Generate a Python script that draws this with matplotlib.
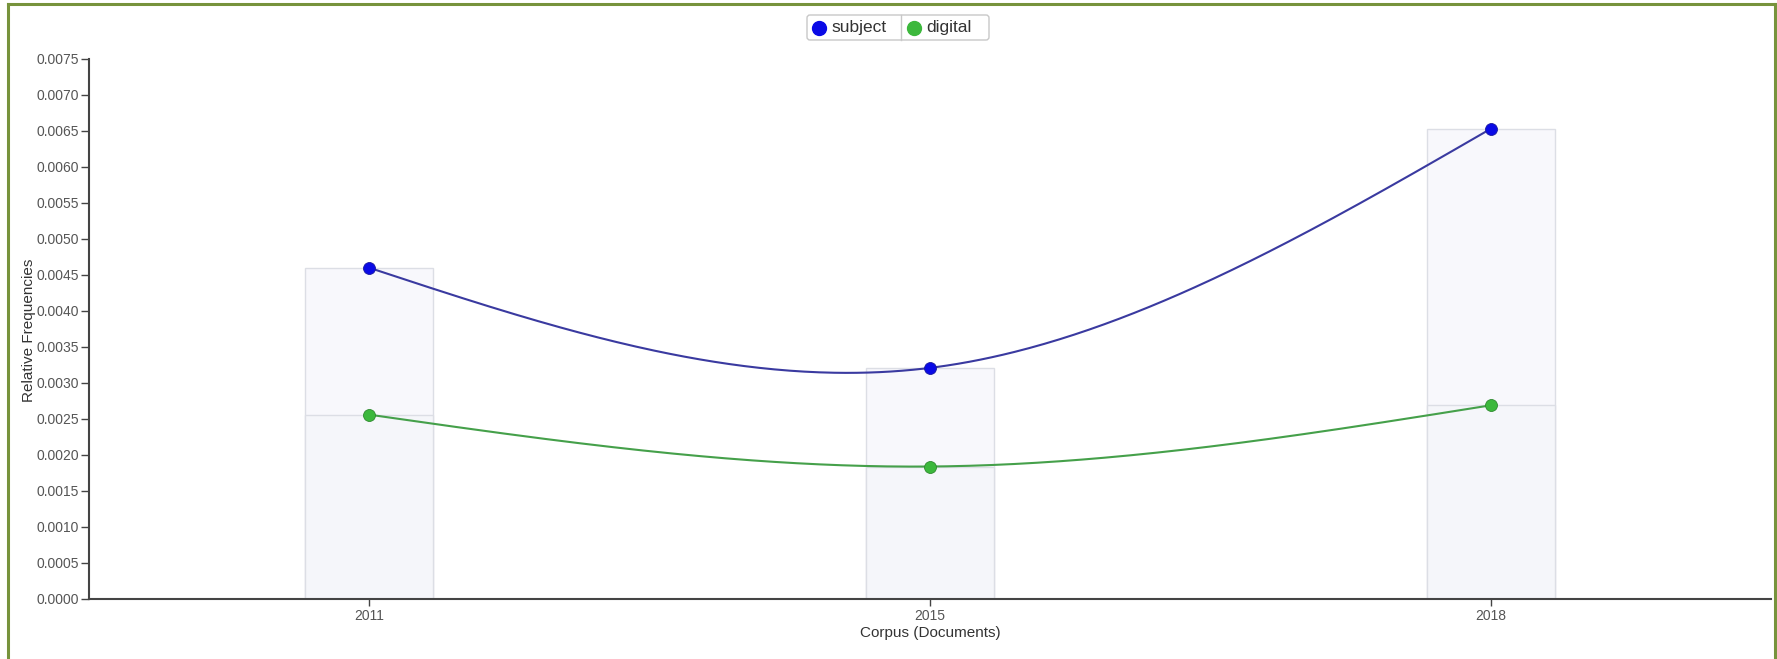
import matplotlib.pyplot as plt
from matplotlib.patches import FancyBboxPatch
from matplotlib.lines import Line2D
from matplotlib.transforms import IdentityTransform
import numpy as np

years = ['2011', '2015', '2018']
subject = [0.00460, 0.00321, 0.00653]
digital = [0.00256, 0.00184, 0.00269]
series_names = ['subject', 'digital']

plt.rcParams['font.family'] = ['Liberation Sans', 'DejaVu Sans']

W, H = 1777, 659
fig = plt.figure(figsize=(W / 100, H / 100), dpi=100)
ax = fig.add_axes([89 / W, 60 / H, 1682 / W, 540 / H])


def natural_spline(xs, ys, n=300):
    # natural cubic spline through the points (same curve as d3.curveNatural)
    xs = np.asarray(xs, float)
    ys = np.asarray(ys, float)
    k = len(xs)
    h = np.diff(xs)
    A = np.zeros((k, k))
    b = np.zeros(k)
    A[0, 0] = A[-1, -1] = 1
    for i in range(1, k - 1):
        A[i, i - 1] = h[i - 1]
        A[i, i] = 2 * (h[i - 1] + h[i])
        A[i, i + 1] = h[i]
        b[i] = 6 * ((ys[i + 1] - ys[i]) / h[i] - (ys[i] - ys[i - 1]) / h[i - 1])
    M = np.linalg.solve(A, b)
    xx = np.linspace(xs[0], xs[-1], n)
    yy = np.empty_like(xx)
    for j, xv in enumerate(xx):
        i = min(np.searchsorted(xs, xv, side='right') - 1, k - 2)
        t = (xv - xs[i]) / h[i]
        yy[j] = ((1 - t) * ys[i] + t * ys[i + 1]
                 + h[i] ** 2 / 6 * (((1 - t) ** 3 - (1 - t)) * M[i] + (t ** 3 - t) * M[i + 1]))
    return xx, yy


x = np.arange(len(years))

# pale background bars
ax.bar(x, subject, width=0.228, color='#f8f8fc', edgecolor='#dcdee5', linewidth=1, zorder=1)
ax.bar(x, digital, width=0.228, color='#f5f6fa', edgecolor='#dcdee5', linewidth=1, zorder=1)

sx, sy = natural_spline(x, subject)
ax.plot(sx, sy, color='#3a3aa0', lw=1.5, zorder=3)
gx, gy = natural_spline(x, digital)
ax.plot(gx, gy, color='#45a04a', lw=1.5, zorder=3)

ax.plot(x, subject, 'o', ms=8.6, color='#0a0ae6', mec='#1a1aa0', mew=0.6, zorder=4)
ax.plot(x, digital, 'o', ms=8.6, color='#3cb83c', mec='#2f8a2f', mew=0.6, zorder=4)

ax.set_xlim(-0.5, 2.5)
ax.set_ylim(0, 0.0075)
ax.set_xticks(x)
ax.set_xticklabels(years)
ax.set_yticks(np.arange(0, 0.00751, 0.0005))
ax.set_yticklabels(['%.4f' % v for v in np.arange(0, 0.00751, 0.0005)])
ax.tick_params(axis='both', length=6, width=1, color='#444444',
               labelsize=10, labelcolor='#555555', pad=1)
ax.tick_params(axis='x', length=5, pad=2)

for s in ['top', 'right']:
    ax.spines[s].set_visible(False)
for s in ['left', 'bottom']:
    ax.spines[s].set_color('#444444')
    ax.spines[s].set_linewidth(1.5)

fig.text(930 / W, 1 - 633 / H, 'Corpus (Documents)', ha='center', va='center',
         fontsize=11, color='#333333')
fig.text(29 / W, 1 - 330 / H, 'Relative Frequencies', ha='center', va='center',
         rotation=90, fontsize=11, color='#333333')

# legend drawn in pixels
px = IdentityTransform()
box = FancyBboxPatch((807, H - 40), 182, 25, boxstyle='round,pad=0,rounding_size=3',
                     facecolor='white', edgecolor='#c8c8c8', linewidth=1, transform=px)
fig.add_artist(box)
fig.add_artist(Line2D([901, 901], [H - 40, H - 15], color='#c8c8c8', lw=1, transform=px))
fig.add_artist(Line2D([819], [H - 27.5], marker='o', ms=10, color='#0a0ae6', transform=px))
fig.add_artist(Line2D([914], [H - 27.5], marker='o', ms=10, color='#3cb83c', transform=px))
fig.text(831 / W, 1 - 27.5 / H, series_names[0], ha='left', va='center', fontsize=12.5, color='#333333')
fig.text(926 / W, 1 - 27.5 / H, series_names[1], ha='left', va='center', fontsize=12.5, color='#333333')

# green frame around the picture
for xs_, ys_ in [([8, 8], [0, H - 4]), ([8, 1775], [H - 4, H - 4]), ([1775, 1775], [0, H - 4])]:
    fig.add_artist(Line2D(xs_, ys_, color='#77933c', lw=2.2, transform=px))

fig.savefig('out.png', dpi=100, facecolor='white')
